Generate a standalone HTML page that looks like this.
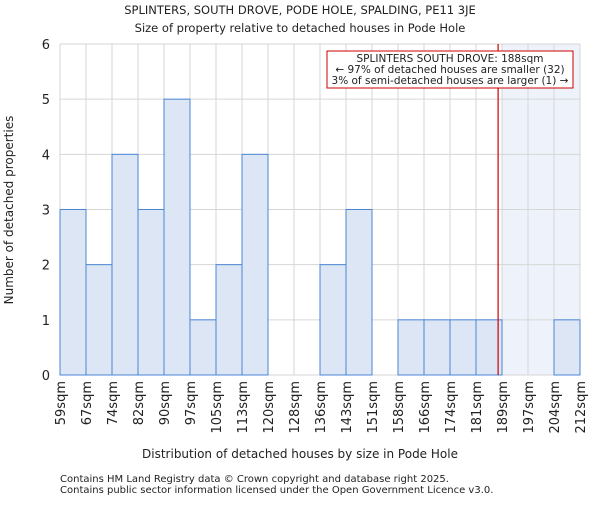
<!DOCTYPE html>
<html><head><meta charset="utf-8"><style>
body{margin:0;background:#fff;}
svg text{font-family:"DejaVu Sans","Liberation Sans",sans-serif;fill:#222;}
</style></head><body>
<svg width="600" height="500" id="c">
<text x="300" y="14" text-anchor="middle" font-size="11.5">SPLINTERS, SOUTH DROVE, PODE HOLE, SPALDING, PE11 3JE</text>
<text x="300" y="32" text-anchor="middle" font-size="11.5">Size of property relative to detached houses in Pode Hole</text>
<text x="300" y="458" text-anchor="middle" font-size="12">Distribution of detached houses by size in Pode Hole</text>
<text transform="translate(13,210) rotate(-90)" text-anchor="middle" font-size="12">Number of detached properties</text>
<text x="60" y="482" font-size="10">Contains HM Land Registry data © Crown copyright and database right 2025.</text>
<text x="60" y="493" font-size="10">Contains public sector information licensed under the Open Government Licence v3.0.</text>
<g id="plot"></g>
</svg>
<script>
const labels=["59sqm","67sqm","74sqm","82sqm","90sqm","97sqm","105sqm","113sqm","120sqm","128sqm","136sqm","143sqm","151sqm","158sqm","166sqm","174sqm","181sqm","189sqm","197sqm","204sqm","212sqm"];
const counts=[3,2,4,3,5,1,2,4,0,0,2,3,0,1,1,1,1,0,0,1];
const yTicks=[0,1,2,3,4,5,6];
const markerBin=16.85;
const shadeFromBin=16.85;
const ns="http://www.w3.org/2000/svg";
const X0=60,X1=580,Y0=375,Y1=44;
const bw=(X1-X0)/counts.length;
const x=i=>X0+i*bw;
const y=v=>Y0-(v/6)*(Y0-Y1);
const g=document.getElementById('plot');
function mk(t,a){const e=document.createElementNS(ns,t);for(const k in a)e.setAttribute(k,a[k]);g.appendChild(e);return e;}
let e;
e=mk('rect',{x:x(shadeFromBin)+4,y:Y1,width:X1-x(shadeFromBin)-4,height:Y0-Y1,fill:'#eef3fb'});


for(let i=0;i<=counts.length;i++){e=mk('line',{x1:x(i),x2:x(i),y1:Y1,y2:Y0,stroke:'#d6d6d6'});

}
yTicks.forEach(t=>{e=mk('line',{x1:X0,x2:X1,y1:y(t),y2:y(t),stroke:'#d6d6d6'});


e=mk('text',{x:X0-10,y:y(t)+5,'text-anchor':'end','font-size':13});e.textContent=t;

});
counts.forEach((v,i)=>{if(!v)return;e=mk('rect',{x:x(i),y:y(v),width:bw,height:Y0-y(v),fill:'#dce6f4',stroke:'#4a86d4','stroke-width':1});

});
labels.forEach((l,i)=>{e=mk('text',{transform:`translate(${x(i)+5},381) rotate(-90)`,'text-anchor':'end','font-size':13});e.textContent=l;

});
e=mk('line',{x1:x(markerBin),x2:x(markerBin),y1:Y1,y2:Y0,stroke:'#cc0000','stroke-width':1.2});


e=mk('rect',{x:327,y:51,width:246,height:37,fill:'#fff',stroke:'#cc0000'});


["SPLINTERS SOUTH DROVE: 188sqm","← 97% of detached houses are smaller (32)","3% of semi-detached houses are larger (1) →"].forEach((s,k)=>{
e=mk('text',{x:450,y:62+k*11,'text-anchor':'middle','font-size':10.5});e.textContent=s;

});
</script>
</body></html>
